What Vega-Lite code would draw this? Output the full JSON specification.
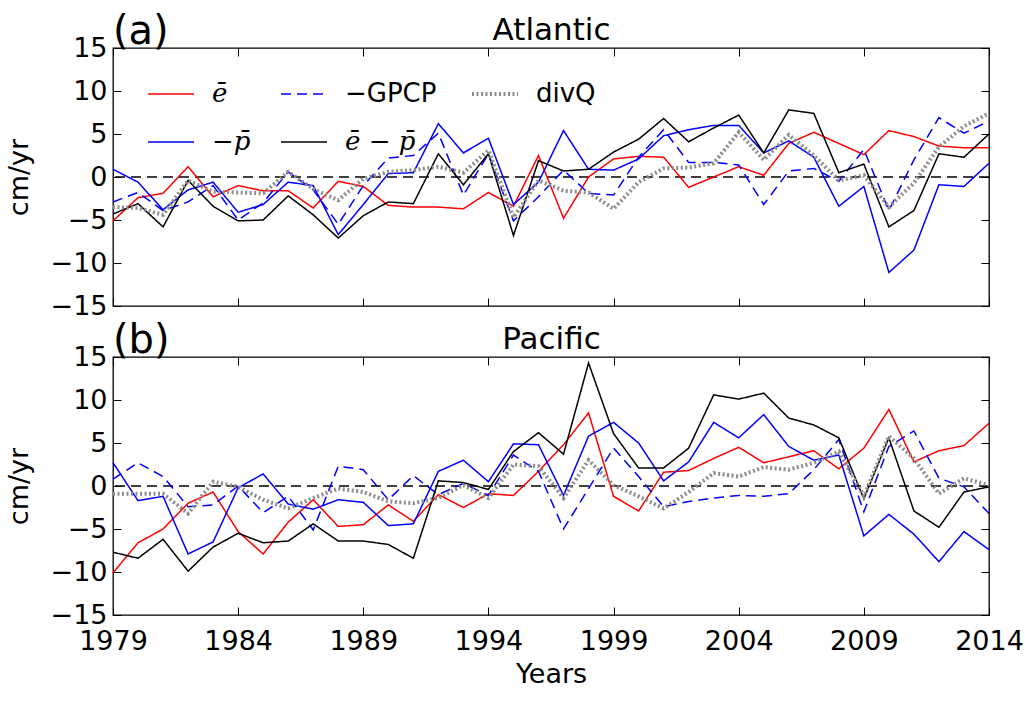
{
  "$schema": "https://vega.github.io/schema/vega-lite/v6.json",
  "background": "white",
  "padding": {"left": 4, "top": 10, "right": 5, "bottom": 5},
  "bounds": "flush",
  "spacing": 51,
  "config": {
    "font": "DejaVu Sans",
    "view": {"stroke": "black", "strokeWidth": 1.3},
    "axis": {"grid": false, "domain": false, "tickColor": "black", "tickSize": -8, "tickWidth": 1, "labelColor": "black", "labelFontSize": 27, "labelFont": "DejaVu Sans", "titleFont": "DejaVu Sans", "titleFontSize": 27, "titleFontWeight": "normal", "titleColor": "black", "labelFlush": false},
    "title": {"fontSize": 40, "fontWeight": "normal", "anchor": "start", "frame": "group", "font": "DejaVu Sans", "color": "black"}
  },
  "resolve": {"legend": {"color": "independent", "strokeDash": "independent"}},
  "datasets": {
    "atl": [
      {"year":1979,"e":-5.1,"p":0.9,"g":-2.9,"ep":-4.3,"d":-3.5},
      {"year":1980,"e":-2.4,"p":-0.6,"g":-1.8,"ep":-3.1,"d":-3.6},
      {"year":1981,"e":-1.9,"p":-3.8,"g":-3.9,"ep":-5.8,"d":-4.4},
      {"year":1982,"e":1.2,"p":-1.5,"g":-2.9,"ep":-0.4,"d":-0.4},
      {"year":1983,"e":-2.3,"p":-0.6,"g":-1.0,"ep":-3.4,"d":-1.7},
      {"year":1984,"e":-1.0,"p":-4.1,"g":-5.0,"ep":-5.1,"d":-1.8},
      {"year":1985,"e":-1.6,"p":-3.2,"g":-3.0,"ep":-5.0,"d":-1.9},
      {"year":1986,"e":-1.6,"p":-0.6,"g":0.6,"ep":-2.2,"d":0.6},
      {"year":1987,"e":-3.6,"p":-1.0,"g":-1.5,"ep":-4.4,"d":-1.4},
      {"year":1988,"e":-0.5,"p":-6.7,"g":-5.5,"ep":-7.1,"d":-2.7},
      {"year":1989,"e":-1.1,"p":-3.2,"g":-1.0,"ep":-4.5,"d":-0.2},
      {"year":1990,"e":-3.3,"p":0.4,"g":2.2,"ep":-2.9,"d":0.6},
      {"year":1991,"e":-3.5,"p":0.5,"g":2.5,"ep":-3.1,"d":0.8},
      {"year":1992,"e":-3.5,"p":6.2,"g":5.1,"ep":2.7,"d":1.2},
      {"year":1993,"e":-3.7,"p":2.8,"g":-2.1,"ep":-0.9,"d":0.5},
      {"year":1994,"e":-1.8,"p":4.5,"g":2.7,"ep":2.7,"d":3.1},
      {"year":1995,"e":-3.4,"p":-3.2,"g":-5.1,"ep":-6.8,"d":-4.7},
      {"year":1996,"e":2.5,"p":-0.6,"g":-2.3,"ep":1.9,"d":-0.4},
      {"year":1997,"e":-4.8,"p":5.4,"g":0.8,"ep":0.7,"d":-1.6},
      {"year":1998,"e":0.0,"p":0.9,"g":-1.9,"ep":0.9,"d":-1.8},
      {"year":1999,"e":2.1,"p":0.8,"g":-2.1,"ep":2.9,"d":-3.7},
      {"year":2000,"e":2.4,"p":2.1,"g":2.3,"ep":4.4,"d":-0.6},
      {"year":2001,"e":2.3,"p":4.8,"g":5.5,"ep":6.8,"d":1.0},
      {"year":2002,"e":-1.2,"p":5.5,"g":1.7,"ep":4.1,"d":1.1},
      {"year":2003,"e":0.0,"p":6.0,"g":1.7,"ep":5.7,"d":1.6},
      {"year":2004,"e":1.2,"p":6.0,"g":1.4,"ep":7.2,"d":5.2},
      {"year":2005,"e":0.2,"p":2.8,"g":-3.2,"ep":2.8,"d":2.0},
      {"year":2006,"e":3.9,"p":4.2,"g":0.7,"ep":7.8,"d":4.9},
      {"year":2007,"e":5.2,"p":2.3,"g":1.0,"ep":7.4,"d":2.5},
      {"year":2008,"e":3.9,"p":-3.4,"g":-0.5,"ep":0.5,"d":-0.4},
      {"year":2009,"e":2.6,"p":-1.1,"g":3.2,"ep":1.5,"d":0.2},
      {"year":2010,"e":5.4,"p":-11.1,"g":-3.9,"ep":-5.8,"d":-3.5},
      {"year":2011,"e":4.7,"p":-8.5,"g":2.0,"ep":-3.9,"d":-0.7},
      {"year":2012,"e":3.6,"p":-0.9,"g":6.9,"ep":2.7,"d":3.5},
      {"year":2013,"e":3.4,"p":-1.1,"g":5.1,"ep":2.3,"d":5.9},
      {"year":2014,"e":3.4,"p":1.6,"g":6.5,"ep":5.0,"d":7.4}
    ],
    "pac": [
      {"year":1979,"e":-10.1,"p":2.7,"g":0.8,"ep":-7.7,"d":-0.9},
      {"year":1980,"e":-6.6,"p":-1.7,"g":2.7,"ep":-8.4,"d":-0.9},
      {"year":1981,"e":-5.0,"p":-1.2,"g":1.1,"ep":-6.2,"d":-0.9},
      {"year":1982,"e":-2.0,"p":-7.9,"g":-2.4,"ep":-9.9,"d":-3.2},
      {"year":1983,"e":-0.7,"p":-6.5,"g":-2.2,"ep":-7.1,"d":0.5},
      {"year":1984,"e":-5.3,"p":-0.2,"g":0.0,"ep":-5.5,"d":-0.1},
      {"year":1985,"e":-7.9,"p":1.4,"g":-3.1,"ep":-6.6,"d":-1.6},
      {"year":1986,"e":-4.2,"p":-2.1,"g":-1.2,"ep":-6.4,"d":-2.6},
      {"year":1987,"e":-1.6,"p":-2.7,"g":-5.1,"ep":-4.4,"d":-1.4},
      {"year":1988,"e":-4.7,"p":-1.6,"g":2.3,"ep":-6.4,"d":-0.3},
      {"year":1989,"e":-4.5,"p":-1.9,"g":1.9,"ep":-6.4,"d":-0.7},
      {"year":1990,"e":-2.2,"p":-4.6,"g":-1.6,"ep":-6.8,"d":-1.8},
      {"year":1991,"e":-4.1,"p":-4.4,"g":1.2,"ep":-8.4,"d":-2.0},
      {"year":1992,"e":-1.0,"p":1.7,"g":-1.0,"ep":0.6,"d":-1.4},
      {"year":1993,"e":-2.5,"p":3.0,"g":0.3,"ep":0.4,"d":0.1},
      {"year":1994,"e":-0.9,"p":0.5,"g":-1.1,"ep":-0.4,"d":-1.4},
      {"year":1995,"e":-1.1,"p":4.9,"g":3.6,"ep":4.0,"d":2.5},
      {"year":1996,"e":1.7,"p":4.8,"g":1.7,"ep":6.2,"d":2.3},
      {"year":1997,"e":4.8,"p":-1.1,"g":-5.0,"ep":3.7,"d":-1.4},
      {"year":1998,"e":8.5,"p":5.8,"g":-0.3,"ep":14.3,"d":3.0},
      {"year":1999,"e":-1.2,"p":7.4,"g":4.4,"ep":6.1,"d":0.1},
      {"year":2000,"e":-2.9,"p":5.0,"g":1.1,"ep":2.1,"d":-1.2},
      {"year":2001,"e":1.6,"p":0.6,"g":-2.4,"ep":2.1,"d":-2.6},
      {"year":2002,"e":1.8,"p":2.8,"g":-1.8,"ep":4.4,"d":-0.7},
      {"year":2003,"e":3.2,"p":7.4,"g":-1.4,"ep":10.6,"d":1.5},
      {"year":2004,"e":4.5,"p":5.6,"g":-1.1,"ep":10.1,"d":1.1},
      {"year":2005,"e":2.7,"p":8.3,"g":-1.2,"ep":10.8,"d":2.2},
      {"year":2006,"e":3.4,"p":4.6,"g":-0.9,"ep":7.9,"d":1.9},
      {"year":2007,"e":4.1,"p":3.0,"g":1.9,"ep":7.1,"d":2.7},
      {"year":2008,"e":2.0,"p":3.6,"g":5.4,"ep":5.6,"d":4.0},
      {"year":2009,"e":4.4,"p":-5.8,"g":-3.0,"ep":-1.5,"d":-1.2},
      {"year":2010,"e":8.9,"p":-3.3,"g":4.6,"ep":5.6,"d":5.8},
      {"year":2011,"e":2.8,"p":-5.6,"g":6.4,"ep":-2.9,"d":3.2},
      {"year":2012,"e":4.1,"p":-8.8,"g":0.9,"ep":-4.8,"d":-0.9},
      {"year":2013,"e":4.7,"p":-5.3,"g":-0.1,"ep":-0.7,"d":0.9},
      {"year":2014,"e":7.3,"p":-7.4,"g":-3.2,"ep":-0.1,"d":0.1}
    ]
  },
  "vconcat": [
    {
      "width": 876, "height": 258,
      "title": {"text": "(a)", "dy": 41},
      "data": {"name": "atl"},
      "layer": [
        {
          "transform": [{"fold": ["e","p","g","ep","d"], "as": ["series","v"]}],
          "mark": {"type": "line", "opacity": 0},
          "encoding": {
            "x": {"field": "year", "type": "quantitative", "scale": {"domain": [1979, 2014], "nice": false, "zero": false}, "axis": {"orient": "top", "labels": false, "title": "Atlantic", "titleFontSize": 31, "titlePadding": 1, "values": [1979,1984,1989,1994,1999,2004,2009,2014]}},
            "y": {"field": "v", "type": "quantitative", "scale": {"domain": [-15, 15], "nice": false}, "axis": {"orient": "right", "labels": false, "title": null, "values": [-15,-10,-5,0,5,10,15]}}
          }
        },
        {
          "data": {"values": [{"zero": 0}]},
          "mark": {"type": "rule", "color": "black", "strokeWidth": 1.3, "strokeDash": [10, 6]},
          "encoding": {"y": {"field": "zero", "type": "quantitative", "axis": null}}
        },
        {
          "transform": [{"fold": ["e","p","g","ep","d"], "as": ["series","v"]}],
          "mark": {"type": "line", "strokeCap": "butt"},
          "encoding": {
            "x": {"field": "year", "type": "quantitative", "axis": {"orient": "bottom", "labels": false, "title": null, "values": [1979,1984,1989,1994,1999,2004,2009,2014]}},
            "y": {"field": "v", "type": "quantitative", "axis": {"orient": "left", "title": "cm/yr", "titlePadding": 17, "labelPadding": 14, "values": [-15,-10,-5,0,5,10,15]}},
            "color": {"field": "series", "type": "nominal",
              "scale": {"domain": ["e","p","g","ep","d"], "range": ["#ff0000","#0000ff","#0000ff","#000000","#8c8c8c"]},
              "legend": {"orient": "none", "legendX": 45, "legendY": 33, "columns": 3, "title": null, "padding": 0, "symbolType": "stroke", "symbolSize": 2116, "symbolStrokeWidth": {"expr": "datum.value === 'd' ? 4 : 1.5"}, "labelFontSize": 26, "labelLimit": 0, "labelOffset": 28, "columnPadding": 27, "rowPadding": 22, "labelColor": "black",
                "labelFont": {"expr": "datum.value === 'e' || datum.value === 'p' || datum.value === 'ep' ? 'DejaVu Serif' : 'DejaVu Sans'"},
                "labelFontStyle": {"expr": "datum.value === 'e' || datum.value === 'p' || datum.value === 'ep' ? 'italic' : 'normal'"},
                "labelExpr": "{'e': 'ē', 'g': '−GPCP', 'd': 'divQ', 'p': '−p̄', 'ep': 'ē − p̄'}[datum.value]"}},
            "strokeDash": {"field": "series", "type": "nominal",
              "scale": {"domain": ["e","p","g","ep","d"], "range": [[1,0],[1,0],[10,6],[1,0],[2,2.5]]},
              "legend": {"orient": "none", "legendX": 45, "legendY": 33, "columns": 3, "title": null, "padding": 0, "symbolType": "stroke", "symbolSize": 2116, "symbolStrokeWidth": {"expr": "datum.value === 'd' ? 4 : 1.5"}, "labelFontSize": 26, "labelLimit": 0, "labelOffset": 28, "columnPadding": 27, "rowPadding": 22, "labelColor": "black",
                "labelFont": {"expr": "datum.value === 'e' || datum.value === 'p' || datum.value === 'ep' ? 'DejaVu Serif' : 'DejaVu Sans'"},
                "labelFontStyle": {"expr": "datum.value === 'e' || datum.value === 'p' || datum.value === 'ep' ? 'italic' : 'normal'"},
                "labelExpr": "{'e': 'ē', 'g': '−GPCP', 'd': 'divQ', 'p': '−p̄', 'ep': 'ē − p̄'}[datum.value]"}},
            "strokeWidth": {"condition": {"test": "datum.series === 'd'", "value": 4}, "value": 1.5}
          }
        }
      ],
      "resolve": {"axis": {"x": "independent", "y": "independent"}}
    },
    {
      "width": 876, "height": 258,
      "title": {"text": "(b)", "dy": 41},
      "data": {"name": "pac"},
      "layer": [
        {
          "transform": [{"fold": ["e","p","g","ep","d"], "as": ["series","v"]}],
          "mark": {"type": "line", "opacity": 0},
          "encoding": {
            "x": {"field": "year", "type": "quantitative", "scale": {"domain": [1979, 2014], "nice": false, "zero": false}, "axis": {"orient": "top", "labels": false, "title": "Pacific", "titleFontSize": 31, "titlePadding": 1, "values": [1979,1984,1989,1994,1999,2004,2009,2014]}},
            "y": {"field": "v", "type": "quantitative", "scale": {"domain": [-15, 15], "nice": false}, "axis": {"orient": "right", "labels": false, "title": null, "values": [-15,-10,-5,0,5,10,15]}}
          }
        },
        {
          "data": {"values": [{"zero": 0}]},
          "mark": {"type": "rule", "color": "black", "strokeWidth": 1.3, "strokeDash": [10, 6]},
          "encoding": {"y": {"field": "zero", "type": "quantitative", "axis": null}}
        },
        {
          "transform": [{"fold": ["e","p","g","ep","d"], "as": ["series","v"]}],
          "mark": {"type": "line", "strokeCap": "butt"},
          "encoding": {
            "x": {"field": "year", "type": "quantitative", "axis": {"orient": "bottom", "title": "Years", "titlePadding": 7, "labelPadding": 21, "format": "d", "values": [1979,1984,1989,1994,1999,2004,2009,2014]}},
            "y": {"field": "v", "type": "quantitative", "axis": {"orient": "left", "title": "cm/yr", "titlePadding": 17, "labelPadding": 14, "values": [-15,-10,-5,0,5,10,15]}},
            "color": {"field": "series", "type": "nominal", "scale": {"domain": ["e","p","g","ep","d"], "range": ["#ff0000","#0000ff","#0000ff","#000000","#8c8c8c"]}, "legend": null},
            "strokeDash": {"field": "series", "type": "nominal", "scale": {"domain": ["e","p","g","ep","d"], "range": [[1,0],[1,0],[10,6],[1,0],[2,2.5]]}, "legend": null},
            "strokeWidth": {"condition": {"test": "datum.series === 'd'", "value": 4}, "value": 1.5}
          }
        }
      ],
      "resolve": {"axis": {"x": "independent", "y": "independent"}}
    }
  ]
}
